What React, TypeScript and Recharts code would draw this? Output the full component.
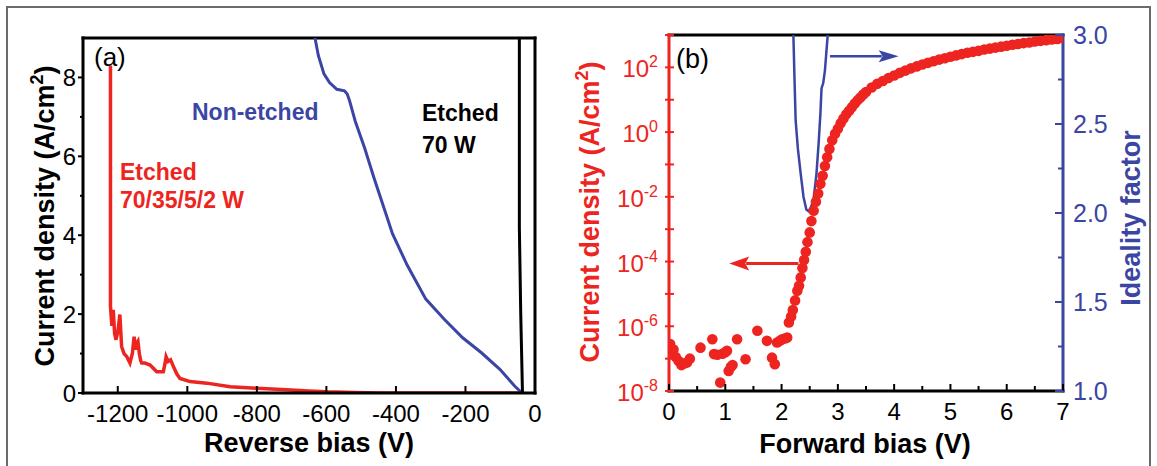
import React from 'react'
import {
  LineChart, Line, ComposedChart, Scatter, XAxis, YAxis, ReferenceLine, ReferenceDot
} from 'recharts'

const RED = '#ee2420'
const BLUE = '#3b45a3'
const FONT = '"Liberation Sans", Arial, Helvetica, sans-serif'

// ---- (a) reverse bias, current density in A/cm2 ----
const etchedMultiV = [-1221, -1221, -1217, -1213, -1209, -1205, -1199, -1194, -1189, -1182, -1174, -1165, -1158, -1153, -1149, -1146, -1142, -1138, -1134, -1131, -1122, -1107, -1088, -1069, -1064, -1061, -1055, -1048, -1040, -1030, -1021, -992, -944, -877, -800, -714, -650, -599, -520, -446, -300, -150, -38]
const etchedMultiJ = [8.3, 2.2, 1.7, 2.11, 1.5, 1.35, 1.6, 1.99, 1.18, 1.0, 0.92, 0.76, 1.0, 1.43, 1.1, 1.25, 1.31, 1.0, 0.82, 0.76, 0.76, 0.71, 0.54, 0.54, 0.75, 0.92, 0.8, 0.84, 0.67, 0.48, 0.37, 0.29, 0.25, 0.16, 0.12, 0.08, 0.05, 0.03, 0.015, 0, 0, 0, 0]

const nonEtchedV = [-634, -623, -607, -591, -570, -548, -540, -533, -517, -490, -463, -431, -410, -367, -314, -261, -208, -154, -101, -58, -37]
const nonEtchedJ = [9.06, 8.55, 8.09, 7.87, 7.7, 7.66, 7.58, 7.4, 6.89, 6.21, 5.45, 4.6, 4.04, 3.23, 2.38, 1.87, 1.4, 1.02, 0.6, 0.17, 0]

const etched70V = [-45, -45, -41, -36]
const etched70J = [9.06, 4.2, 2.0, 0]

const reverseTicks = [-1200, -1000, -800, -600, -400, -200, 0]
const densityTicks = [0, 1, 2, 3, 4, 5, 6, 7, 8]

// ---- (b) forward bias: log10 of current density, and ideality factor ----
const forwardV = [
  0.02, 0.04, 0.08, 0.12, 0.17, 0.22, 0.27, 0.32, 0.37, 0.56, 0.77, 0.8, 0.86, 0.91, 0.95, 1.0, 1.03, 1.06, 1.1, 1.13,
  1.21, 1.36, 1.57, 1.74, 1.83, 1.88, 1.92, 1.97, 2.01, 2.06, 2.1, 2.13, 2.17, 2.2, 2.24, 2.28, 2.31, 2.34, 2.37, 2.4,
  2.43, 2.46, 2.5, 2.53, 2.57, 2.61, 2.65, 2.69, 2.73, 2.77, 2.81, 2.85, 2.9, 2.95, 3.0, 3.05, 3.1, 3.15, 3.2, 3.25,
  3.3, 3.35, 3.4, 3.45, 3.5, 3.6, 3.7, 3.8, 3.9, 4.0, 4.1, 4.2, 4.3, 4.4, 4.5, 4.6, 4.7, 4.8, 4.9, 5.0,
  5.1, 5.2, 5.3, 5.4, 5.5, 5.6, 5.7, 5.8, 5.9, 6.0, 6.1, 6.2, 6.3, 6.4, 6.5, 6.6, 6.7, 6.8, 6.9, 7.0
]
const forwardLogJ = [
  -6.55, -6.85, -6.72, -6.95, -7.07, -7.2, -7.15, -7.12, -7.0, -6.66, -6.4, -6.86, -6.88, -7.74, -6.85, -6.8, -6.76, -7.38, -7.25, -7.2,
  -6.4, -7.02, -6.14, -6.45, -6.97, -7.17, -6.5, -6.45, -6.4, -6.38, -6.35, -5.88, -5.7, -5.5, -5.2, -4.9, -4.75, -4.49, -4.2, -3.95,
  -3.7, -3.4, -3.1, -2.75, -2.43, -2.15, -1.9, -1.6, -1.35, -1.05, -0.78, -0.52, -0.25, -0.05, 0.1, 0.27, 0.42, 0.55, 0.66, 0.77,
  0.88, 0.98, 1.07, 1.16, 1.24, 1.38, 1.49, 1.58, 1.67, 1.75, 1.83, 1.9, 1.97, 2.03, 2.09, 2.14, 2.19, 2.24, 2.28, 2.33,
  2.37, 2.41, 2.45, 2.48, 2.51, 2.55, 2.58, 2.61, 2.64, 2.67, 2.7, 2.72, 2.75, 2.77, 2.8, 2.82, 2.84, 2.86, 2.88, 2.9
]

const idealityV = [2.21, 2.23, 2.25, 2.29, 2.34, 2.39, 2.44, 2.48, 2.52, 2.57, 2.62, 2.66, 2.69, 2.71, 2.74, 2.77, 2.79, 2.82]
const idealityN = [3.0, 2.75, 2.52, 2.36, 2.22, 2.09, 2.02, 2.01, 2.03, 2.08, 2.22, 2.4, 2.56, 2.7, 2.73, 2.8, 2.88, 3.0]

const forwardTicks = [0, 0.5, 1, 1.5, 2, 2.5, 3, 3.5, 4, 4.5, 5, 5.5, 6, 6.5, 7]
const decadeTicks = [-8, -7, -6, -5, -4, -3, -2, -1, 0, 1, 2, 3].map((e) => Math.pow(10, e))
const idealityTicks = [1, 1.25, 1.5, 1.75, 2, 2.25, 2.5, 2.75, 3]

// arrows marking which axis each curve belongs to
const jArrow = { from: 2.3, to: 1.07, at: 8.7e-5 }
const nArrow = { from: 2.86, to: 4.08, at: 2.88 }

const toPoints = (xs: number[], ys: number[]) => xs.map((v, i) => ({ v, j: ys[i] }))

const reversePts = {
  multi: toPoints(etchedMultiV, etchedMultiJ),
  none: toPoints(nonEtchedV, nonEtchedJ),
  w70: toPoints(etched70V, etched70J),
}
const forwardPts = forwardV.map((v, i) => ({ v, j: Math.pow(10, forwardLogJ[i]) }))
const idealityPts = idealityV.map((v, i) => ({ v, n: idealityN[i] }))

const tickText = { fontFamily: FONT, fontSize: 24 }

const ReverseXTick = ({ x, y, payload }: any) => (
  <g>
    <line x1={x} x2={x} y1={y} y2={y - 7} stroke="#000" strokeWidth={2} />
    <text x={x} y={y + 29} textAnchor="middle" fill="#000" {...tickText}>{payload.value}</text>
  </g>
)

const DensityTick = ({ x, y, payload }: any) => {
  const major = payload.value % 2 === 0
  return (
    <g>
      <line x1={x} x2={x - (major ? 5 : 3)} y1={y} y2={y} stroke="#000" strokeWidth={2} />
      {major && <text x={x - 7} y={y + 9} textAnchor="end" fill="#000" {...tickText}>{payload.value}</text>}
    </g>
  )
}

const ForwardXTick = ({ x, y, payload }: any) => {
  const major = Number.isInteger(payload.value)
  return (
    <g>
      <line x1={x} x2={x} y1={y} y2={y - (major ? 7 : 5)} stroke="#000" strokeWidth={2} />
      {major && <text x={x} y={y + 29} textAnchor="middle" fill="#000" {...tickText}>{payload.value}</text>}
    </g>
  )
}

const DecadeTick = ({ x, y, payload }: any) => {
  const exp = Math.round(Math.log10(payload.value))
  const labelled = exp % 2 === 0 && exp <= 2
  return (
    <g>
      <line x1={x - 4} x2={x + 5} y1={y} y2={y} stroke={RED} strokeWidth={2} />
      {labelled && (
        <text x={x - 11} y={y + 10} textAnchor="end" fill={RED} {...tickText}>
          <tspan>10</tspan>
          <tspan dy={-10} fontSize={16}>{exp}</tspan>
        </text>
      )}
    </g>
  )
}

const IdealityTick = ({ x, y, payload }: any) => {
  const major = Number.isInteger(payload.value * 2)
  return (
    <g>
      <line x1={x} x2={x - (major ? 8 : 5)} y1={y} y2={y} stroke={BLUE} strokeWidth={2} />
      {major && (
        <text x={x + 10} y={y + 9} textAnchor="start" fill={BLUE} fontFamily={FONT} fontSize={25}>
          {payload.value.toFixed(1)}
        </text>
      )}
    </g>
  )
}

const dot = (p: any) => <circle cx={p.cx} cy={p.cy} r={5.3} fill={RED} />
const headLeft = (color: string) => (p: any) => (
  <path d={`M${p.cx},${p.cy} L${p.cx + 20},${p.cy - 7} L${p.cx + 16},${p.cy} L${p.cx + 20},${p.cy + 7} Z`} fill={color} />
)
const headRight = (color: string) => (p: any) => (
  <path d={`M${p.cx},${p.cy} L${p.cx - 20},${p.cy - 6} L${p.cx - 16},${p.cy} L${p.cx - 20},${p.cy + 6} Z`} fill={color} />
)

const frame = { strokeWidth: 3, strokeLinecap: 'square' as const }

const ReversePanel = () => (
  <LineChart width={560} height={466} margin={{ top: 38, right: 25, bottom: 0, left: 0 }}>
    <XAxis
      type="number" dataKey="v" domain={[-1300, 0]} ticks={reverseTicks} interval={0}
      height={73} tickSize={0} tickMargin={0} tickLine={false} allowDataOverflow
      axisLine={{ stroke: '#000', ...frame }} tick={<ReverseXTick />}
    />
    <YAxis
      type="number" domain={[0, 9]} ticks={densityTicks} interval={0} width={83}
      tickSize={0} tickMargin={0} tickLine={false} allowDataOverflow
      axisLine={{ stroke: '#000', ...frame }} tick={<DensityTick />}
    />
    <ReferenceLine y={9} stroke="#000" {...frame} />
    <ReferenceLine x={0} stroke="#000" {...frame} />
    <Line data={reversePts.multi} dataKey="j" type="linear" stroke={RED} strokeWidth={3.5} dot={false} isAnimationActive={false} />
    <Line data={reversePts.none} dataKey="j" type="linear" stroke={BLUE} strokeWidth={3} dot={false} isAnimationActive={false} />
    <Line data={reversePts.w70} dataKey="j" type="linear" stroke="#000" strokeWidth={3} dot={false} isAnimationActive={false} />
  </LineChart>
)

const ForwardPanel = () => (
  <ComposedChart width={597} height={466} margin={{ top: 35, right: 0, bottom: 0, left: 0 }}>
    <XAxis
      type="number" dataKey="v" domain={[0, 7]} ticks={forwardTicks} interval={0}
      height={75} tickSize={0} tickMargin={0} tickLine={false} allowDataOverflow
      axisLine={{ stroke: '#000', ...frame }} tick={<ForwardXTick />}
    />
    <YAxis
      yAxisId="left" type="number" scale="log" domain={[1e-8, 1e3]} ticks={decadeTicks} interval={0}
      width={109} tickSize={0} tickMargin={0} tickLine={false} allowDataOverflow
      axisLine={{ stroke: RED, ...frame }} tick={<DecadeTick />}
    />
    <YAxis
      yAxisId="right" orientation="right" type="number" domain={[1, 3]} ticks={idealityTicks} interval={0}
      width={94} tickSize={0} tickMargin={0} tickLine={false} allowDataOverflow
      axisLine={{ stroke: BLUE, ...frame }} tick={<IdealityTick />}
    />
    <ReferenceLine yAxisId="right" y={3} stroke="#000" {...frame} />
    <Scatter yAxisId="left" data={forwardPts} dataKey="j" fill={RED} shape={dot} isAnimationActive={false} />
    <Line yAxisId="right" data={idealityPts} dataKey="n" type="linear" stroke={BLUE} strokeWidth={2.5} dot={false} isAnimationActive={false} />
    <ReferenceLine
      yAxisId="left" stroke={RED} strokeWidth={3}
      segment={[{ x: jArrow.from, y: jArrow.at }, { x: jArrow.to + 0.3, y: jArrow.at }]}
    />
    <ReferenceDot yAxisId="left" x={jArrow.to} y={jArrow.at} shape={headLeft(RED)} />
    <ReferenceLine
      yAxisId="right" stroke={BLUE} strokeWidth={2.5}
      segment={[{ x: nArrow.from, y: nArrow.at }, { x: nArrow.to - 0.3, y: nArrow.at }]}
    />
    <ReferenceDot yAxisId="right" x={nArrow.to} y={nArrow.at} shape={headRight(BLUE)} />
  </ComposedChart>
)

const title = { fontFamily: FONT, fontSize: 27, fontWeight: 700 }
const note = { fontFamily: FONT, fontSize: 23, fontWeight: 700 }

const Annotations = () => (
  <svg width={1157} height={466} style={{ position: 'absolute', left: 0, top: 0, pointerEvents: 'none' }}>
    {/* panel (a) */}
    <text x={94} y={66} fontFamily={FONT} fontSize={26} fill="#000">(a)</text>
    <text x={192} y={120} fill={BLUE} {...note}>Non-etched</text>
    <text x={422} y={121} fill="#000" {...note}>Etched</text>
    <text x={422} y={153} fill="#000" {...note}>70 W</text>
    <text x={120} y={180} fill={RED} {...note}>Etched</text>
    <text x={120} y={208} fill={RED} {...note}>70/35/5/2 W</text>
    <text transform="translate(44,216) rotate(-90)" y={10} textAnchor="middle" fill="#000" {...title}>
      <tspan>Current density (A/cm</tspan>
      <tspan dy={-11} fontSize={18}>2</tspan>
      <tspan dy={11}>)</tspan>
    </text>
    <text x={309} y={452} textAnchor="middle" fill="#000" {...title}>Reverse bias (V)</text>

    {/* panel (b) */}
    <text x={676} y={68} fontFamily={FONT} fontSize={27} fill="#000">(b)</text>
    <text transform="translate(589,212) rotate(-90)" y={10} textAnchor="middle" fill={RED} {...title}>
      <tspan>Current density (A/cm</tspan>
      <tspan dy={-11} fontSize={18}>2</tspan>
      <tspan dy={11}>)</tspan>
    </text>
    <text transform="translate(1130,218) rotate(-90)" y={10} textAnchor="middle" fill={BLUE} {...title}>Ideality factor</text>
    <text x={865} y={453} textAnchor="middle" fill="#000" {...title}>Forward bias (V)</text>
  </svg>
)

export default function App() {
  return (
    <div style={{ position: 'absolute', left: 0, top: 0, width: 1157, height: 466, overflow: 'hidden', background: '#fff' }}>
      <div style={{ position: 'absolute', left: 6, top: 6, width: 1145, height: 480, border: '2px solid #6b6b6b', boxSizing: 'border-box' }} />
      <div style={{ position: 'absolute', left: 0, top: 0 }}>
        <ReversePanel />
      </div>
      <div style={{ position: 'absolute', left: 560, top: 0 }}>
        <ForwardPanel />
      </div>
      <Annotations />
    </div>
  )
}
